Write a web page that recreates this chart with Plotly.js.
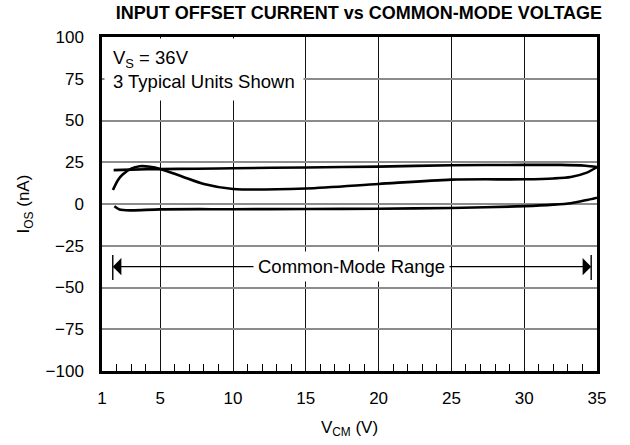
<!DOCTYPE html>
<html>
<head>
<meta charset="utf-8">
<script src="https://cdn.plot.ly/plotly-3.0.1.min.js"></script>
<style>html,body{margin:0;padding:0;background:#fff;}#chart{width:630px;height:445px;}</style>
</head>
<body>
<div id="chart"></div>
<script>
// Unit A: flat upper curve (~21 nA)
const unitA_vcm = [1.8, 3, 5, 7.5, 10, 15, 20, 25, 30, 32.5, 34.2, 35];
const unitA_ios = [20.3, 20.6, 20.9, 21.1, 21.4, 21.9, 22.4, 23.2, 23.4, 23.4, 22.9, 22.1];
// Unit B: bump then dip curve, joining unit A at 35 V
const unitB_vcm = [1.75, 2.1, 2.4, 3, 3.6, 4.3, 5, 6.5, 8, 10, 15, 20, 25, 30, 32, 33.2, 34.3, 35];
const unitB_ios = [8.4, 14.4, 17.5, 21.2, 22.6, 22.3, 21.0, 16.5, 12.0, 9.0, 9.3, 12.0, 14.6, 14.8, 15.3, 16.2, 18.8, 22.1];
// Unit C: lower curve (~ -3 nA)
const unitC_vcm = [1.85, 2.2, 3, 5, 10, 15, 20, 25, 30, 32, 33.2, 34.2, 35];
const unitC_ios = [-1.4, -3.3, -3.8, -3.2, -3.1, -3.0, -2.8, -2.4, -1.3, -0.4, 0.5, 2.2, 3.8];

const xTickVals = [1, 5, 10, 15, 20, 25, 30, 35];
const xMinorVals = [2,3,4,6,7,8,9,11,12,13,14,16,17,18,19,21,22,23,24,26,27,28,29,31,32,33,34];
const yTickVals = [-100, -75, -50, -25, 0, 25, 50, 75, 100];

const cmRange = [1.74, 34.6];
const cmArrowY = -37.5;
const cmBarY = [-30.5, -45.5];
const cmLabel = 'Common-Mode Range';

const curveLine = {color: '#000', width: 2.6, shape: 'spline', smoothing: 0.8};
const traces = [
  {x: unitA_vcm, y: unitA_ios, mode: 'lines', line: curveLine, hoverinfo: 'skip'},
  {x: unitB_vcm, y: unitB_ios, mode: 'lines', line: curveLine, hoverinfo: 'skip'},
  {x: unitC_vcm, y: unitC_ios, mode: 'lines', line: curveLine, hoverinfo: 'skip'},
  {x: [cmRange[0], cmRange[0]], y: cmBarY, mode: 'lines', line: {color: '#000', width: 1.4}, hoverinfo: 'skip'},
  {x: [cmRange[1], cmRange[1]], y: cmBarY, mode: 'lines', line: {color: '#000', width: 1.4}, hoverinfo: 'skip'}
];

const font = 'Liberation Sans, Arial, Helvetica, sans-serif';
const mid = (cmRange[0] + cmRange[1]) / 2;
const layout = {
  width: 630, height: 445,
  margin: {l: 102, r: 33, t: 37, b: 74},
  paper_bgcolor: '#fff', plot_bgcolor: '#fff',
  showlegend: false,
  font: {family: font, color: '#000', size: 17},
  title: {text: '<b>INPUT OFFSET CURRENT vs COMMON-MODE VOLTAGE</b>', font: {family: font, size: 18, color: '#000'},
          x: 0.519, xanchor: 'center', y: 0.972, yanchor: 'middle', xref: 'paper', yref: 'container'},
  xaxis: {
    range: [1, 35], tickvals: xTickVals, ticktext: xTickVals.map(String),
    showgrid: true, gridcolor: '#111', gridwidth: 1,
    showline: true, linecolor: '#000', linewidth: 2.7, mirror: true,
    ticks: '', ticklabelstandoff: 10, zeroline: false,
    tickfont: {size: 17},
    minor: {tickvals: xMinorVals, ticks: 'inside', ticklen: 7, tickcolor: '#000', tickwidth: 1, showgrid: false},
    title: {text: 'V<sub>CM</sub> (V)', font: {size: 17}, standoff: 14}
  },
  yaxis: {
    range: [-100, 100], tickvals: yTickVals, ticktext: yTickVals.map(v => v < 0 ? '\u2212' + Math.abs(v) : String(v)),
    showgrid: true, gridcolor: '#8c8c8c', gridwidth: 2,
    showline: true, linecolor: '#000', linewidth: 2.7, mirror: true,
    ticks: '', ticklabelstandoff: 12, zeroline: false,
    tickfont: {size: 17},
    title: {text: 'I<sub>OS</sub> (nA)', font: {size: 17}, standoff: 12}
  },
  annotations: [
    {x: cmRange[0], y: cmArrowY, ax: mid, ay: cmArrowY, xref: 'x', yref: 'y', axref: 'x', ayref: 'y',
     text: '', showarrow: true, arrowhead: 1, arrowsize: 2.2, arrowwidth: 1.3, arrowcolor: '#000'},
    {x: cmRange[1], y: cmArrowY, ax: mid, ay: cmArrowY, xref: 'x', yref: 'y', axref: 'x', ayref: 'y',
     text: '', showarrow: true, arrowhead: 1, arrowsize: 2.2, arrowwidth: 1.3, arrowcolor: '#000'},
    {x: mid, y: cmArrowY, xref: 'x', yref: 'y', text: cmLabel, showarrow: false,
     bgcolor: '#fff', font: {size: 18.5}, borderpad: 4},
    {x: 0, y: 1, xref: 'paper', yref: 'paper', xanchor: 'left', yanchor: 'top', showarrow: false,
     text: 'V<sub>S</sub> = 36V<br>3 Typical Units Shown', align: 'left', bgcolor: '#fff',
     font: {size: 18.5}, borderpad: 8, xshift: 2, yshift: -1}
  ]
};

Plotly.newPlot('chart', traces, layout, {staticPlot: true, displayModeBar: false});
</script>
</body>
</html>
